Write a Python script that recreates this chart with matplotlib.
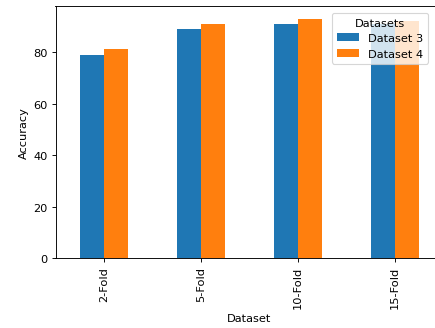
import matplotlib
matplotlib.use("Agg")
import matplotlib.pyplot as plt
import numpy as np

# Cross-validation accuracy per fold setting
folds = ["2-Fold", "5-Fold", "10-Fold", "15-Fold"]
dataset3 = [78.8, 88.9, 90.9, 91.0]
dataset4 = [81.2, 90.9, 92.8, 92.0]
series_names = ["Dataset 3", "Dataset 4"]

DPI = 82
W, H = 435, 329
fig = plt.figure(figsize=(W / DPI, H / DPI), dpi=DPI)
ax = fig.add_axes([55.5 / W, 70 / H, 388 / W, 252 / H])

x = np.arange(len(folds))
w = 0.25
ax.bar(x - w / 2, dataset3, w, color="#1f77b4", label=series_names[0])
ax.bar(x + w / 2, dataset4, w, color="#ff7f0e", label=series_names[1])

ax.set_xlim(-0.5, len(folds) - 0.5)
ymax = max(max(dataset3), max(dataset4))
ax.set_ylim(0, ymax * 1.055)
ax.set_xticks(x)
ax.set_xticklabels(folds, rotation=90)
ax.set_yticks([0, 20, 40, 60, 80])
ax.set_xlabel("Dataset")
ax.set_ylabel("Accuracy")
ax.legend(title="Datasets", loc="upper left",
          bbox_to_anchor=(332 / W, 1 - 14 / H),
          bbox_transform=fig.transFigure, borderaxespad=0)

fig.savefig("out.png", dpi=DPI)
